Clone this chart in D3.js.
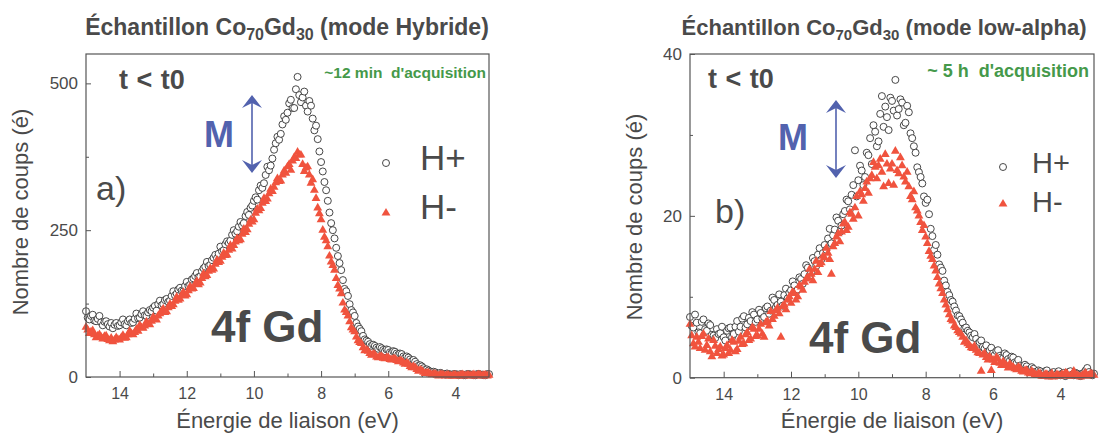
<!DOCTYPE html>
<html><head><meta charset="utf-8">
<script src="https://cdn.jsdelivr.net/npm/d3@7/dist/d3.min.js"></script>
<style>
body{margin:0;background:#fff}
svg{display:block}
text{font-family:"Liberation Sans",Arial,Helvetica,sans-serif}
</style>
</head><body>
<svg id="chart" width="1115" height="436"></svg>
<script>
// ---------------- DATA ----------------
// binding energy (eV), 0.05 eV sampling, shared by both panels
const energy = [
 15.00,14.95,14.90,14.85,14.80,14.75,14.70,14.65,14.60,14.55,
 14.50,14.45,14.40,14.35,14.30,14.25,14.20,14.15,14.10,14.05,
 14.00,13.95,13.90,13.85,13.80,13.75,13.70,13.65,13.60,13.55,
 13.50,13.45,13.40,13.35,13.30,13.25,13.20,13.15,13.10,13.05,
 13.00,12.95,12.90,12.85,12.80,12.75,12.70,12.65,12.60,12.55,
 12.50,12.45,12.40,12.35,12.30,12.25,12.20,12.15,12.10,12.05,
 12.00,11.95,11.90,11.85,11.80,11.75,11.70,11.65,11.60,11.55,
 11.50,11.45,11.40,11.35,11.30,11.25,11.20,11.15,11.10,11.05,
 11.00,10.95,10.90,10.85,10.80,10.75,10.70,10.65,10.60,10.55,
 10.50,10.45,10.40,10.35,10.30,10.25,10.20,10.15,10.10,10.05,
 10.00,9.95,9.90,9.85,9.80,9.75,9.70,9.65,9.60,9.55,
 9.50,9.45,9.40,9.35,9.30,9.25,9.20,9.15,9.10,9.05,
 9.00,8.95,8.90,8.85,8.80,8.75,8.70,8.65,8.60,8.55,
 8.50,8.45,8.40,8.35,8.30,8.25,8.20,8.15,8.10,8.05,
 8.00,7.95,7.90,7.85,7.80,7.75,7.70,7.65,7.60,7.55,
 7.50,7.45,7.40,7.35,7.30,7.25,7.20,7.15,7.10,7.05,
 7.00,6.95,6.90,6.85,6.80,6.75,6.70,6.65,6.60,6.55,
 6.50,6.45,6.40,6.35,6.30,6.25,6.20,6.15,6.10,6.05,
 6.00,5.95,5.90,5.85,5.80,5.75,5.70,5.65,5.60,5.55,
 5.50,5.45,5.40,5.35,5.30,5.25,5.20,5.15,5.10,5.05,
 5.00,4.95,4.90,4.85,4.80,4.75,4.70,4.65,4.60,4.55,
 4.50,4.45,4.40,4.35,4.30,4.25,4.20,4.15,4.10,4.05,
 4.00,3.95,3.90,3.85,3.80,3.75,3.70,3.65,3.60,3.55,
 3.50,3.45,3.40,3.35,3.30,3.25,3.20,3.15,3.10,3.05,
 3.00
];
// Panel a) mode Hybride
const hybridPlus = [
 112,101,98,104,106,96,95,99,104,93,
 88,94,95,90,86,92,83,89,92,87,
 88,93,98,90,88,95,98,92,93,99,
 108,100,101,107,112,105,104,110,114,112,
 118,121,113,124,130,122,124,131,133,128,
 130,138,146,139,142,149,152,147,146,155,
 162,155,157,166,168,172,177,170,171,180,
 185,188,196,189,191,199,203,208,202,210,
 222,214,216,226,231,228,232,242,250,244,
 248,256,264,258,262,274,281,276,288,292,
 300,306,302,318,326,322,330,344,358,352,
 360,372,387,398,409,404,414,430,444,438,
 450,466,472,458,458,490,511,480,468,476,
 486,462,452,470,462,440,420,428,405,384,
 366,350,332,318,300,280,262,250,236,220,
 206,194,182,165,150,146,138,124,114,110,
 104,92,86,82,78,70,64,62,60,56,
 53,55,53,50,48,51,49,46,44,47,
 46,42,41,44,43,40,38,40,39,35,
 33,35,33,30,27,29,26,22,19,20,
 18,15,12,13,11,9,7,9,8,6,
 5,7,6,5,4,6,5,4,4,5,
 5,4,3,5,4,3,3,5,5,4,
 4,3,3,5,5,4,4,3,3,5,
 5
];
const hybridMinus = [
 85,80,74,77,79,72,67,70,72,68,
 65,69,70,64,62,66,60,63,67,64,
 63,67,71,66,67,72,78,74,72,76,
 81,78,88,84,83,87,94,90,89,95,
 102,99,97,104,108,112,116,110,111,118,
 124,120,123,129,136,131,133,140,144,138,
 140,147,154,150,151,158,163,157,160,168,
 176,171,173,180,185,182,184,192,199,195,
 197,204,211,207,208,216,224,218,224,230,
 236,232,234,243,252,246,251,260,267,264,
 268,279,286,283,287,296,304,299,303,312,
 320,316,323,331,338,333,334,344,351,347,
 358,362,352,368,374,372,383,378,378,362,
 350,356,358,344,330,336,318,304,288,278,
 268,250,238,232,222,206,196,190,182,168,
 156,150,142,126,114,110,104,94,84,80,
 77,68,62,59,57,50,45,46,44,40,
 37,39,38,34,33,35,35,32,31,33,
 33,30,29,31,31,28,26,28,27,24,
 22,24,22,18,16,18,16,13,10,12,
 11,8,6,7,7,5,4,5,5,3,
 2,4,4,3,2,3,3,2,2,3,
 3,2,2,3,4,3,2,3,3,2,
 3,4,2,3,4,3,2,3,3,2,
 3
];
// Panel b) mode low-alpha
const lowAlphaPlus = [
 7.5,6.4,6.2,7.8,6.8,5.6,5.5,6.9,7.2,6.0,
 5.8,6.7,6.5,5.3,5.2,4.9,6.0,5.4,5.5,6.3,
 5.0,4.6,5.8,6.1,6.2,5.0,5.4,6.3,7.0,5.7,
 6.3,7.3,7.6,6.2,6.6,7.4,7.0,8.1,7.8,6.9,
 7.2,8.4,8.0,7.3,7.5,8.6,8.8,7.9,8.3,9.9,
 9.6,8.7,9.0,10.3,9.4,8.9,10.2,11.0,9.8,10.5,
 10.8,11.9,11.4,10.6,10.9,12.4,12.2,11.6,12.8,13.9,
 13.6,12.6,13.0,14.8,14.4,13.8,15.2,16.0,14.6,15.4,
 16.4,15.8,17.2,18.4,16.6,17.6,18.3,19.8,19.4,18.0,
 18.8,20.2,20.6,22.0,21.8,20.8,22.6,23.8,28.1,22.4,
 24.4,26.2,25.6,23.8,24.8,27.8,27.5,29.6,26.4,31.2,
 30.4,28.6,29.2,32.6,34.8,31.0,33.5,32.2,30.6,34.6,
 34.2,33.0,36.8,32.4,33.2,34.4,34.0,31.2,31.5,33.6,
 32.8,30.2,29.6,28.6,27.8,26.0,25.4,24.8,24.0,22.4,
 21.6,22.0,20.2,18.4,17.5,15.8,16.4,15.2,14.0,13.6,
 13.2,12.0,11.4,10.6,10.2,9.6,9.4,8.8,8.3,7.7,
 7.6,7.2,6.8,6.1,6.2,5.8,5.6,5.2,5.0,5.4,
 4.8,4.2,4.4,4.6,3.8,3.6,4.0,3.1,3.4,3.7,
 3.0,2.8,3.3,3.4,2.7,2.5,2.4,3.0,2.8,2.3,
 2.1,2.6,2.5,1.9,1.8,2.2,1.5,1.3,1.2,1.6,
 1.4,1.0,0.9,1.3,1.1,0.7,0.6,0.9,0.8,0.4,
 0.5,0.8,0.9,0.3,0.4,0.6,0.7,0.3,0.5,0.8,
 0.3,0.5,0.6,0.2,0.4,0.7,0.8,0.4,0.3,0.6,
 0.5,0.3,0.2,0.5,0.6,0.9,1.2,0.7,0.4,0.3,
 0.5
];
const lowAlphaMinus = [
 6.6,5.2,4.2,3.8,5.0,4.4,3.6,5.1,5.4,3.4,
 4.0,4.8,3.2,2.6,4.6,3.9,3.0,3.5,3.8,2.7,
 2.8,3.6,4.0,3.0,3.4,4.6,4.4,3.2,3.5,4.5,
 5.0,4.1,4.2,5.3,5.6,4.6,4.8,6.2,6.0,5.1,
 5.2,6.0,6.6,5.4,5.0,6.8,7.0,6.4,8.2,7.2,
 7.6,8.3,8.6,7.9,5.0,8.8,9.0,8.4,9.6,10.0,
 9.2,10.6,10.4,9.6,10.0,11.4,11.2,10.8,11.8,12.2,
 12.4,13.4,12.8,12.0,13.4,14.4,13.0,14.0,14.2,15.0,
 14.8,16.0,15.4,14.6,12.8,16.2,16.6,17.4,17.8,16.8,
 18.0,19.0,19.2,18.2,18.6,20.4,20.2,19.6,21.0,22.4,
 20.0,23.0,22.6,21.8,23.4,24.2,22.8,24.6,25.0,26.6,
 26.0,24.6,26.2,27.0,25.4,23.6,27.6,26.4,24.0,25.8,
 26.4,23.8,28.0,25.6,25.2,27.2,26.2,24.8,24.2,25.4,
 23.6,22.4,22.0,23.0,21.0,20.6,20.0,19.2,18.2,18.8,
 17.4,16.6,15.6,15.0,14.6,13.8,13.2,12.4,11.6,11.0,
 10.4,9.6,9.0,8.4,7.8,7.2,7.0,6.4,6.2,5.8,
 5.6,5.4,5.0,4.4,4.6,4.2,4.0,3.7,3.6,3.9,
 3.4,3.1,3.0,0.8,2.8,3.0,2.5,2.2,2.6,0.9,
 2.2,1.9,2.5,2.3,1.8,1.5,2.0,1.7,1.5,1.2,
 1.7,1.4,1.3,1.1,1.0,1.3,1.2,0.8,0.7,0.9,
 0.9,0.6,0.5,0.8,0.6,0.4,0.3,0.5,0.5,0.2,
 0.2,0.4,0.4,0.1,0.3,0.5,0.1,0.2,0.4,0.3,
 0.2,0.4,0.3,0.6,0.5,0.2,0.2,0.4,0.8,0.3,
 0.3,0.2,0.1,0.3,0.4,0.6,0.2,0.3,0.5,0.4,
 0.3
];
const xDomain = [15, 3];
const xMajorTicks = [14, 12, 10, 8, 6, 4];
const xMinorTicks = [13, 11, 9, 7, 5];
const hybridYDomain = [0, 550];
const hybridYMajor = [0, 250, 500];
const hybridYMinor = [125, 375];
const lowAlphaYDomain = [0, 40];
const lowAlphaYMajor = [0, 20, 40];
const lowAlphaYMinor = [10, 30];
const seriesLabels = ["H+", "H-"];

// ---------------- STYLE ----------------
const textCol = "#4a4a4a", axisCol = "#555", red = "#f0533e", blue = "#5262ae", green = "#45994a";
const svg = d3.select("#chart");

const panels = [
  {left:86, right:489, top:54, bottom:377, yDomain:hybridYDomain, yMajor:hybridYMajor, yMinor:hybridYMinor,
   plus:hybridPlus, minus:hybridMinus, mode:"(mode Hybride)", acq:"~12 min  d'acquisition", acqFs:15.5, letter:"a)",
   titleX:287, titleFs:23, yLabX:28, yLabY:212, tt:[119,89], acqPos:[486,78], M:[204,147], arrowX:252, arrowY:[95,173], letterPos:[96,200],
   gd:[211,342], legX:386, legY:[163,213], legTxtX:420, legTxtY:[170,219], legFs:35},
  {left:690, right:1094, top:54, bottom:377.7, yDomain:lowAlphaYDomain, yMajor:lowAlphaYMajor, yMinor:lowAlphaYMinor,
   plus:lowAlphaPlus, minus:lowAlphaMinus, mode:"(mode low-alpha)", acq:"~ 5 h  d'acquisition", acqFs:18, letter:"b)",
   titleX:884, titleFs:22, yLabX:642, yLabY:217, tt:[708,88], acqPos:[1089,77], M:[778,150], arrowX:836, arrowY:[100,178], letterPos:[715,223],
   gd:[809,353], legX:1003, legY:[167,204], legTxtX:1032, legTxtY:[173,212], legFs:29}
];

function arrowHead(x, y, dir){ // dir -1 up, +1 down ; tip at (x,y)
  const L = 13, W = 10, n = 8;
  return `M${x},${y} L${x-W},${y - dir*L} L${x},${y - dir*n} L${x+W},${y - dir*L} Z`;
}

panels.forEach(p => {
  const x = d3.scaleLinear().domain(xDomain).range([p.left, p.right]);
  const y = d3.scaleLinear().domain(p.yDomain).range([p.bottom, p.top]);

  // title
  const subFs = Math.round(p.titleFs*0.68);
  const t = svg.append("text").attr("x", p.titleX).attr("y", 35)
    .attr("text-anchor","middle").attr("font-weight","bold").attr("font-size",p.titleFs).attr("fill",textCol);
  t.append("tspan").text("Échantillon Co");
  t.append("tspan").attr("dy",5).attr("font-size",subFs).text("70");
  t.append("tspan").attr("dy",-5).text("Gd");
  t.append("tspan").attr("dy",5).attr("font-size",subFs).text("30");
  t.append("tspan").attr("dy",-5).text(" " + p.mode);

  // axes
  const gx = svg.append("g").attr("transform",`translate(0,${p.bottom})`)
    .call(d3.axisBottom(x).tickValues(xMajorTicks).tickFormat(d3.format("d")).tickSizeInner(-6).tickSizeOuter(0).tickPadding(11));
  const gxm = svg.append("g").attr("transform",`translate(0,${p.bottom})`)
    .call(d3.axisBottom(x).tickValues(xMinorTicks).tickFormat("").tickSizeInner(-3.5).tickSizeOuter(0));
  const gy = svg.append("g").attr("transform",`translate(${p.left},0)`)
    .call(d3.axisLeft(y).tickValues(p.yMajor).tickFormat(d3.format("d")).tickSizeInner(-5).tickSizeOuter(0).tickPadding(8));
  const gym = svg.append("g").attr("transform",`translate(${p.left},0)`)
    .call(d3.axisLeft(y).tickValues(p.yMinor).tickFormat("").tickSizeInner(-3).tickSizeOuter(0));
  [gx,gxm,gy,gym].forEach(g => {
    g.select(".domain").remove();
    g.selectAll("line").attr("stroke", axisCol).attr("stroke-width",1);
    g.selectAll("text").attr("fill", textCol).attr("font-family",'"Liberation Sans",Arial,sans-serif');
  });
  gx.selectAll("text").attr("font-size",16);
  gy.selectAll("text").attr("font-size",17);

  // axis labels
  svg.append("text").attr("x",(p.left+p.right)/2).attr("y",428).attr("text-anchor","middle")
    .attr("font-size",22).attr("fill",textCol).text("Énergie de liaison (eV)");
  svg.append("text").attr("transform",`translate(${p.yLabX},${p.yLabY}) rotate(-90)`).attr("text-anchor","middle")
    .attr("font-size",22).attr("fill",textCol).text("Nombre de coups (é)");

  // data
  const pts = energy.map((e,i) => ({e, plus:p.plus[i], minus:p.minus[i]}));
  svg.append("g").selectAll("circle").data(pts).join("circle")
    .attr("cx", d => x(d.e)).attr("cy", d => y(d.plus)).attr("r",3.5)
    .attr("fill","#fff").attr("stroke","#333").attr("stroke-width",0.9);
  const tri = d3.symbol().type(d3.symbolTriangle).size(34);
  svg.append("g").selectAll("path").data(pts).join("path")
    .attr("d", tri).attr("transform", d => `translate(${x(d.e)},${y(d.minus)})`)
    .attr("fill", red);

  // frame
  svg.append("rect").attr("x",p.left).attr("y",p.top).attr("width",p.right-p.left).attr("height",p.bottom-p.top)
    .attr("fill","none").attr("stroke",axisCol).attr("stroke-width",1.2);

  // annotations
  svg.append("text").attr("x",p.tt[0]).attr("y",p.tt[1]).attr("font-weight","bold").attr("font-size",27)
    .attr("word-spacing",1).attr("fill",textCol).style("white-space","pre").text("t < t0");
  svg.append("text").attr("x",p.acqPos[0]).attr("y",p.acqPos[1]).attr("text-anchor","end").attr("font-weight","bold")
    .attr("font-size",p.acqFs).attr("fill",green).style("white-space","pre").text(p.acq);
  svg.append("text").attr("x",p.M[0]).attr("y",p.M[1]).attr("font-weight","bold").attr("font-size",36)
    .attr("fill",blue).text("M");
  svg.append("line").attr("x1",p.arrowX).attr("x2",p.arrowX).attr("y1",p.arrowY[0]+6).attr("y2",p.arrowY[1]-6)
    .attr("stroke",blue).attr("stroke-width",1.6);
  svg.append("path").attr("d",arrowHead(p.arrowX,p.arrowY[0],-1)).attr("fill",blue);
  svg.append("path").attr("d",arrowHead(p.arrowX,p.arrowY[1],1)).attr("fill",blue);
  svg.append("text").attr("x",p.letterPos[0]).attr("y",p.letterPos[1]).attr("font-size",34)
    .attr("fill",textCol).text(p.letter);
  svg.append("text").attr("x",p.gd[0]).attr("y",p.gd[1]).attr("font-weight","bold").attr("font-size",44)
    .attr("fill",textCol).text("4f Gd");

  // legend
  svg.append("circle").attr("cx",p.legX).attr("cy",p.legY[0]).attr("r",3.5)
    .attr("fill","#fff").attr("stroke","#333").attr("stroke-width",0.9);
  svg.append("path").attr("d",tri).attr("transform",`translate(${p.legX},${p.legY[1]})`).attr("fill",red);
  seriesLabels.forEach((s,i) => {
    svg.append("text").attr("x",p.legTxtX).attr("y",p.legTxtY[i]).attr("font-size",p.legFs)
      .attr("fill",textCol).text(s);
  });
});
</script>
</body></html>
